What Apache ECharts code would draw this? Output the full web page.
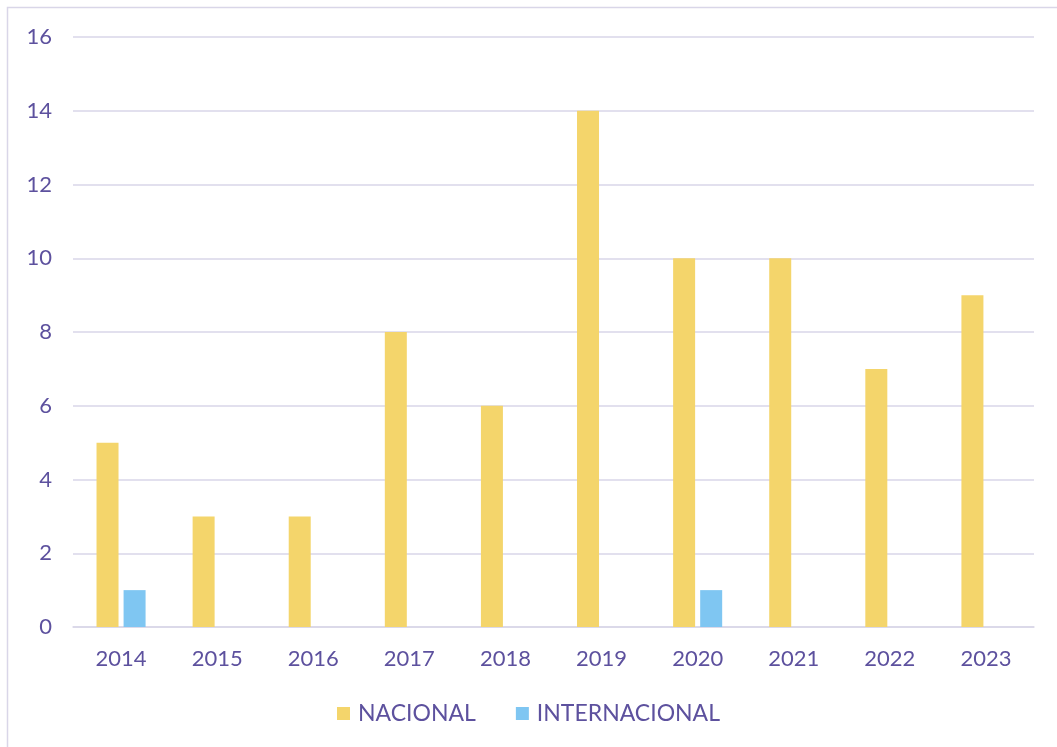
<!DOCTYPE html>
<html>
<head>
<meta charset="utf-8">
<script src="https://cdn.jsdelivr.net/npm/echarts@6/dist/echarts.min.js"></script>
<style>
  html, body { margin: 0; padding: 0; background: #fff; }
  #chart { width: 1057px; height: 747px; }
</style>
</head>
<body>
<div id="chart"></div>
<script>
var years = ["2014", "2015", "2016", "2017", "2018", "2019", "2020", "2021", "2022", "2023"];
var nacional = [5, 3, 3, 8, 6, 14, 10, 10, 7, 9];
var internacional = [1, 0, 0, 0, 0, 0, 1, 0, 0, 0];
var seriesNames = ["NACIONAL", "INTERNACIONAL"];

var textColor = "#5d519e";
var lineColor = "#d9d6e8";
var font = "Lato";

var chart = echarts.init(document.getElementById("chart"));
chart.setOption({
  animation: false,
  textStyle: { fontFamily: font, color: textColor },
  graphic: [
    {
      type: "rect",
      shape: { x: 7.5, y: 7.5, width: 1070, height: 760 },
      style: { fill: "none", stroke: lineColor, lineWidth: 1.5 },
      silent: true
    }
  ],
  legend: {
    top: 697,
    left: "center",
    itemWidth: 13,
    itemHeight: 13,
    itemGap: 40,
    icon: "rect",
    textStyle: { fontSize: 23, color: textColor, fontFamily: font, padding: [0, 0, 0, 3] },
    data: seriesNames
  },
  grid: { left: 73, right: 23, top: 37, bottom: 120, containLabel: false },
  xAxis: {
    type: "category",
    data: years,
    axisLine: { show: true, lineStyle: { color: lineColor, width: 1.5 } },
    axisTick: { show: false },
    axisLabel: { fontSize: 22, color: textColor, margin: 21 }
  },
  yAxis: {
    type: "value",
    min: 0,
    max: 16,
    interval: 2,
    axisLine: { show: false },
    axisTick: { show: false },
    splitLine: { lineStyle: { color: lineColor, width: 1.5 } },
    axisLabel: { fontSize: 22, color: textColor, margin: 21 }
  },
  series: [
    {
      name: seriesNames[0],
      type: "bar",
      data: nacional,
      barWidth: 22,
      barGap: "23%",
      itemStyle: { color: "#f4d56b" }
    },
    {
      name: seriesNames[1],
      type: "bar",
      data: internacional,
      barWidth: 22,
      itemStyle: { color: "#7fc6f2" }
    }
  ]
});
</script>
</body>
</html>
